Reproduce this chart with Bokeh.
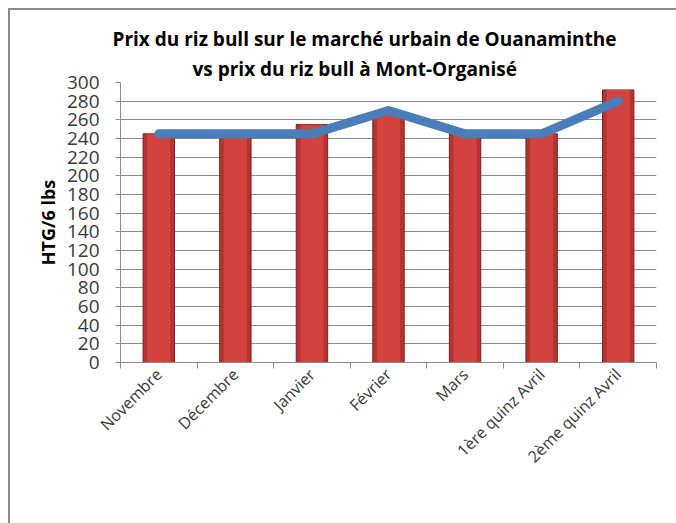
from bokeh.plotting import figure
from bokeh.models import (Range1d, FixedTicker, Legend, LegendItem, Title,
                          ColumnDataSource)
from bokeh.embed import file_html
from bokeh.resources import INLINE
import math

# ---- data ----
categories = ["Novembre", "Décembre", "Janvier", "Février", "Mars",
              "1ère quinz Avril", "2ème quinz Avril"]
prix_ouanaminthe = [245, 245, 255, 265, 245, 245, 292]
prix_mont_organise = [245, 245, 245, 270, 245, 245, 280]
y_ticks = list(range(0, 301, 20))
title_line1 = "Prix du riz bull sur le marché urbain de Ouanaminthe"
title_line2 = "vs  prix du riz bull à Mont-Organisé"
y_label = "HTG/6 lbs"
series_names = ["Prix ville Ouanaminthe", "Prix Mont-Organisé"]

FONT = "Open Sans"

# category slots: centre of each slot, slot boundaries for Excel-like ticks
x_pos = [i + 0.5 for i in range(len(categories))]
x_bounds = list(range(len(categories) + 1))

src = ColumnDataSource(dict(x=x_pos, cat=categories, ville=prix_ouanaminthe,
                            mont=prix_mont_organise))

p = figure(frame_width=536, frame_height=280, output_backend="svg",
           toolbar_location=None,
           x_range=Range1d(0, len(categories)), y_range=Range1d(0, 300),
           min_border_left=110, min_border_top=72, min_border_right=21,
           min_border_bottom=140)
p.styles = {"margin-left": "8px", "margin-top": "8px",
            "border-top": "2px solid #8c8c8c", "border-left": "2px solid #8c8c8c"}
p.outline_line_color = None
p.background_fill_color = "white"
p.border_fill_color = "white"

# grid
p.xgrid.grid_line_color = None
p.ygrid.grid_line_color = "#8c8c8c"
p.ygrid.grid_line_width = 1

# y axis
p.yaxis.ticker = FixedTicker(ticks=y_ticks)
p.yaxis.axis_line_color = "#8c8c8c"
p.yaxis.major_tick_line_color = "#8c8c8c"
p.yaxis.major_tick_out = 5
p.yaxis.major_tick_in = 0
p.yaxis.minor_tick_line_color = None
p.yaxis.major_label_text_font = FONT
p.yaxis.major_label_text_font_size = "19px"
p.yaxis.major_label_text_color = "#3a3a3a"
p.yaxis.major_label_standoff = 16
p.yaxis.axis_label = y_label
p.yaxis.axis_label_text_font = FONT
p.yaxis.axis_label_text_font_style = "bold"
p.yaxis.axis_label_text_font_size = "18px"
p.yaxis.axis_label_text_color = "black"
p.yaxis.axis_label_standoff = 4

# x axis
p.xaxis.ticker = FixedTicker(ticks=x_pos, minor_ticks=x_bounds)
p.xaxis.major_label_overrides = {x: c for x, c in zip(x_pos, categories)}
p.xaxis.axis_line_color = "#8c8c8c"
p.xaxis.major_tick_line_color = None
p.xaxis.minor_tick_line_color = "#8c8c8c"
p.xaxis.minor_tick_out = 6
p.xaxis.minor_tick_in = 0
p.xaxis.major_label_orientation = math.pi / 4
p.xaxis.major_label_text_font = FONT
p.xaxis.major_label_text_font_size = "16px"
p.xaxis.major_label_text_color = "#3a3a3a"
p.xaxis.major_label_standoff = 3

# bars (dark edge + lighter body for a bevelled look)
bars = p.vbar(x="x", top="ville", width=0.41, source=src,
              fill_color="#b53431", line_color="#7d201e", line_width=1)
p.vbar(x="x", top="ville", width=0.30, source=src,
       fill_color="#d2433f", line_color=None)
# line
ln = p.line(x="x", y="mont", source=src, line_width=9, line_color="#4a7ebb",
            line_cap="round", line_join="round")

# titles (bottom line first: later titles stack above)
for txt, off, so in ((title_line2, 72, 2), (title_line1, -8, 2)):
    p.add_layout(Title(text=txt, align="left", offset=off,
                       text_font=FONT, text_font_style="bold",
                       text_font_size="19px", text_color="black",
                       standoff=so), "above")

legend = Legend(items=[LegendItem(label=series_names[0], renderers=[bars]),
                       LegendItem(label=series_names[1], renderers=[ln])],
                orientation="horizontal", location=(6, 0),
                glyph_width=40, glyph_height=12, label_standoff=4, spacing=22,
                label_text_font=FONT, label_text_font_size="18px",
                label_text_color="#222222", border_line_color=None,
                background_fill_alpha=0, padding=0, margin=0)
p.add_layout(legend, "below")

open("out.html", "w").write(file_html(p, INLINE))
